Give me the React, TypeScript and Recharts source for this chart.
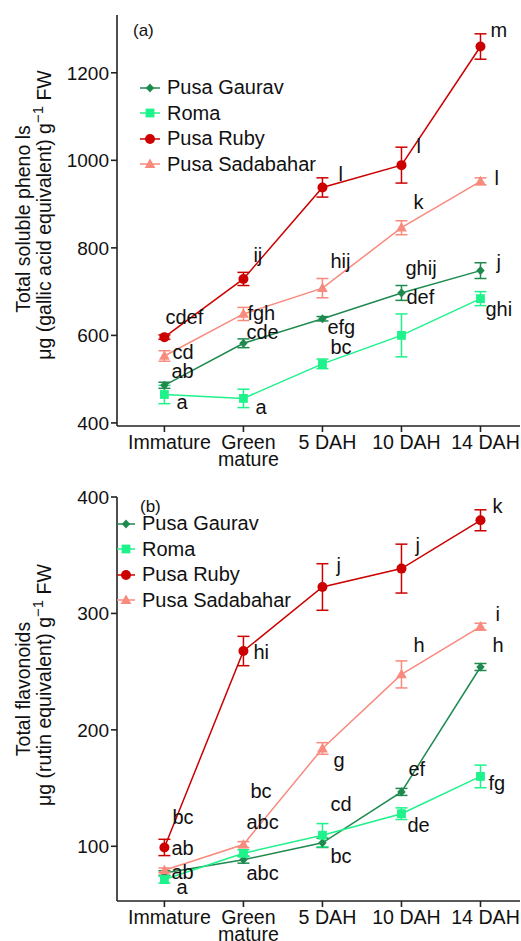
import React from 'react';
import { LineChart, Line, XAxis, YAxis, ErrorBar, LabelList, Legend } from 'recharts';

const stageTicks = [['Immature'], ['Green', 'mature'], ['5 DAH'], ['10 DAH'], ['14 DAH']];
const varieties = ['Pusa Gaurav', 'Roma', 'Pusa Ruby', 'Pusa Sadabahar'];

// (a) total soluble phenols
const phenolGaurav = [486, 582, 638, 697, 748];
const phenolGauravErr = [7, 10, 5, 17, 18];
const phenolRoma = [465, 456, 535, 600, 684];
const phenolRomaErr = [21, 21, 11, 49, 16];
const phenolRuby = [596, 729, 938, 989, 1260];
const phenolRubyErr = [5, 15, 22, 41, 29];
const phenolSadabahar = [553, 649, 708, 846, 952];
const phenolSadabaharErr = [12, 15, 22, 16, 8];
const phenolLetters = {
  gaurav: ['ab', 'cde', 'efg', 'ghij', 'j'],
  roma: ['a', 'a', 'bc', 'def', 'ghi'],
  ruby: ['cdef', 'ij', 'l', 'l', 'm'],
  sadabahar: ['cd', 'fgh', 'hij', 'k', 'l'],
};
const phenolTicks = [400, 600, 800, 1000, 1200];

// (b) total flavonoids
const flavGaurav = [77, 88.5, 103, 146.7, 254];
const flavGauravErr = [2, 3, 4, 3, 3];
const flavRoma = [71.4, 94, 109.5, 128, 160];
const flavRomaErr = [3, 3, 10, 5, 9.7];
const flavRuby = [99, 267.7, 322.7, 338.5, 380];
const flavRubyErr = [7, 12.6, 20, 21, 9];
const flavSadabahar = [79.4, 101.5, 184, 247.6, 288.6];
const flavSadabaharErr = [2, 2.5, 5, 11.6, 3];
const flavLetters = {
  gaurav: ['ab', 'abc', 'bc', 'ef', 'h'],
  roma: ['a', 'abc', 'cd', 'de', 'fg'],
  ruby: ['bc', 'hi', 'j', 'j', 'k'],
  sadabahar: ['ab', 'bc', 'g', 'h', 'i'],
};
const flavTicks = [100, 200, 300, 400];

// where each significance letter sits relative to its point (dx, dy in px)
const phenolLetterOffsets = {
  gaurav: [[7, -13], [3, -10], [5, 9], [4, -24], [16, -8]],
  roma: [[12, 9], [12, 10], [8, -16], [5, -37], [5, 11]],
  ruby: [[1, -19], [10, -23], [16, -12], [15, -18], [10, -16]],
  sadabahar: [[8, -3], [4, 0], [8, -26], [12, -25], [14, -2]],
};
const flavLetterOffsets = {
  gaurav: [[7, 0], [3, 14], [8, 14], [7, -22], [12, -21]],
  roma: [[12, 8], [3, -30], [8, -30], [6, 12], [8, 8]],
  ruby: [[8, -29], [10, 2], [14, -21], [14, -23], [12, -13]],
  sadabahar: [[7, -21], [7, -53], [11, 13], [12, -28], [15, -12]],
};

const FONT = '"Liberation Sans", Arial, sans-serif';
const AXIS = '#222';

const seriesStyle = [
  { key: 'gaurav', name: varieties[0], color: '#1e8a4e', shape: 'diamond' },
  { key: 'roma', name: varieties[1], color: '#1ef28a', shape: 'square' },
  { key: 'sadabahar', name: varieties[3], color: '#f88a7e', shape: 'triangle' },
  { key: 'ruby', name: varieties[2], color: '#cc0000', shape: 'circle' },
];
const legendOrder = ['gaurav', 'roma', 'ruby', 'sadabahar'];

function buildRows(vals, errs, letters) {
  return stageTicks.map((_, i) => {
    const row: any = { x: i };
    Object.keys(vals).forEach((k) => {
      row[k] = vals[k][i];
      row[k + 'Err'] = errs[k][i];
      row[k + 'L'] = letters[k][i];
    });
    return row;
  });
}

const phenolData = buildRows(
  { gaurav: phenolGaurav, roma: phenolRoma, ruby: phenolRuby, sadabahar: phenolSadabahar },
  { gaurav: phenolGauravErr, roma: phenolRomaErr, ruby: phenolRubyErr, sadabahar: phenolSadabaharErr },
  phenolLetters
);
const flavData = buildRows(
  { gaurav: flavGaurav, roma: flavRoma, ruby: flavRuby, sadabahar: flavSadabahar },
  { gaurav: flavGauravErr, roma: flavRomaErr, ruby: flavRubyErr, sadabahar: flavSadabaharErr },
  flavLetters
);

function Marker({ shape, color, cx, cy }) {
  if (shape === 'circle') return <circle cx={cx} cy={cy} r={5} fill={color} />;
  if (shape === 'square') return <rect x={cx - 4.4} y={cy - 4.4} width={8.8} height={8.8} fill={color} />;
  if (shape === 'diamond')
    return <path d={`M${cx},${cy - 4.6}L${cx + 4.2},${cy}L${cx},${cy + 4.6}L${cx - 4.2},${cy}Z`} fill={color} />;
  return <path d={`M${cx},${cy - 5.6}L${cx + 5.4},${cy + 3.9}L${cx - 5.4},${cy + 3.9}Z`} fill={color} />;
}

const makeDot = (shape, color) => (props) => (
  <Marker key={`d-${props.index}`} shape={shape} color={color} cx={props.cx} cy={props.cy} />
);

const makeLetter = (offsets) => (props) => {
  const { x, y, value, index } = props;
  const [dx, dy] = offsets[index];
  return (
    <text key={`l-${index}`} x={x + dx} y={y + dy + 6} fontSize={20} fontFamily={FONT} fill="#111">
      {value}
    </text>
  );
};

const StageTick = (props) => {
  const { x, y, payload } = props;
  const lines = stageTicks[payload.value] || [];
  return (
    <text x={x + 5} y={y} textAnchor="middle" fontSize={19.6} fontFamily={FONT} fill="#111">
      {lines.map((l, i) => (
        <tspan key={i} x={x + 5} dy={i === 0 ? 15 : 17}>
          {l}
        </tspan>
      ))}
    </text>
  );
};

function LegendBox({ iconWidth }) {
  return (
    <div style={{ fontFamily: FONT, fontSize: 20, color: '#111' }}>
      {legendOrder.map((k) => {
        const s = seriesStyle.find((d) => d.key === k);
        return (
          <div key={k} style={{ display: 'flex', alignItems: 'center', height: 25.5, whiteSpace: 'nowrap' }}>
            <svg width={iconWidth} height={14} style={{ marginRight: 7 }}>
              <line x1={0} x2={iconWidth} y1={7} y2={7} stroke={s.color} strokeWidth={1.5} />
              <Marker shape={s.shape} color={s.color} cx={iconWidth / 2} cy={7} />
            </svg>
            <span>{s.name}</span>
          </div>
        );
      })}
    </div>
  );
}

function Panel({ data, offsets, domain, ticks, height, margin, tag, tagX, legendTop, legendLeft, iconWidth, title }) {
  const titleEl = () => (
    <g fontFamily={FONT} fill="#111">
      <text x={30} y={219} fontSize={19.5} textAnchor="middle" transform="rotate(-90 30 219)">
        {title}
      </text>
      <text x={51} y={215} fontSize={19.5} textAnchor="middle" transform="rotate(-90 51 215)">
        {title === 'Total flavonoids' ? 'μg (rutin equivalent) g' : 'μg (gallic acid equivalent) g'}
        <tspan dy={-8} fontSize={15}>−1</tspan>
        <tspan dy={8}> FW</tspan>
      </text>
      <text x={tagX} y={margin.top + 21 - (tag === '(b)' ? 6 : 0)} fontSize={17}>
        {tag}
      </text>
    </g>
  );
  return (
    <LineChart width={521} height={height} data={data} margin={margin}>
      <XAxis
        type="number"
        dataKey="x"
        domain={[-0.6, 4.5]}
        ticks={[0, 1, 2, 3, 4]}
        allowDataOverflow
        stroke={AXIS}
        strokeWidth={1.6}
        tickSize={6}
        tick={StageTick}
        interval={0}
      />
      <YAxis
        type="number"
        domain={domain}
        ticks={ticks}
        allowDataOverflow
        width={60}
        stroke={AXIS}
        strokeWidth={1.6}
        tickSize={6}
        tickMargin={2}
        tick={{ fontSize: 19, fill: '#111', fontFamily: FONT }}
        label={titleEl}
      />
      <Legend
        layout="vertical"
        align="center"
        verticalAlign="middle"
        wrapperStyle={{ top: legendTop, left: legendLeft, width: 'auto' }}
        content={() => <LegendBox iconWidth={iconWidth} />}
      />
      {seriesStyle.map((s) => (
        <Line
          key={s.key}
          dataKey={s.key}
          name={s.name}
          stroke={s.color}
          strokeWidth={1.5}
          dot={makeDot(s.shape, s.color)}
          activeDot={false}
          isAnimationActive={false}
        >
          <ErrorBar dataKey={s.key + 'Err'} direction="y" width={6} stroke={s.color} strokeWidth={1.5} />
          <LabelList dataKey={s.key + 'L'} content={makeLetter(offsets[s.key])} />
        </Line>
      ))}
    </LineChart>
  );
}

export default function App() {
  return (
    <div style={{ position: 'absolute', left: 0, top: 0, width: 521, height: 941, background: '#fff' }}>
      <div style={{ position: 'absolute', left: 0, top: 0 }}>
        <Panel
          data={phenolData}
          offsets={phenolLetterOffsets}
          domain={[393, 1332]}
          ticks={phenolTicks}
          height={470}
          margin={{ top: 15, right: 1, bottom: 14, left: 57 }}
          tag="(a)"
          tagX={133}
          legendTop={75}
          legendLeft={140}
          iconWidth={20}
          title="Total soluble pheno ls"
        />
      </div>
      <div style={{ position: 'absolute', left: 0, top: 470 }}>
        <Panel
          data={flavData}
          offsets={flavLetterOffsets}
          domain={[53, 400]}
          ticks={flavTicks}
          height={471}
          margin={{ top: 27, right: 1, bottom: 10, left: 57 }}
          tag="(b)"
          tagX={140}
          legendTop={41}
          legendLeft={117}
          iconWidth={18}
          title="Total flavonoids"
        />
      </div>
    </div>
  );
}
